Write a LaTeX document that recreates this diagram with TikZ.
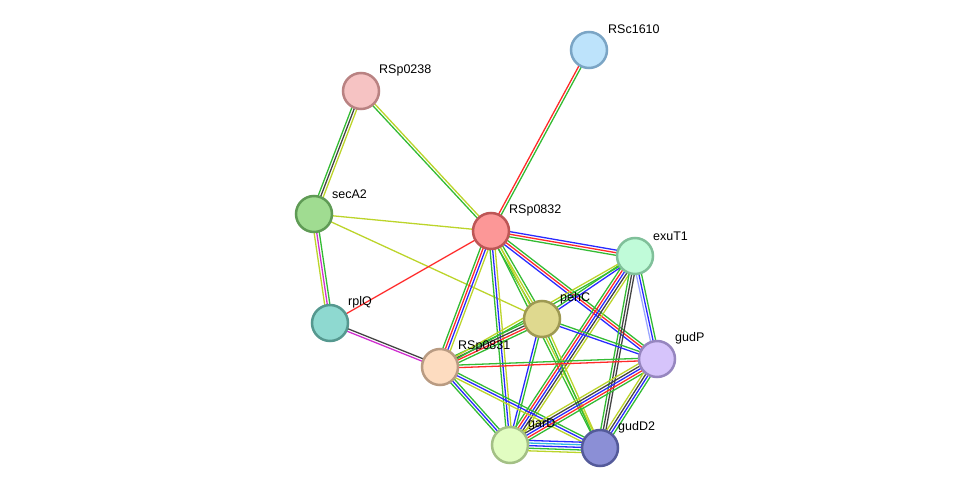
\documentclass[tikz,border=0pt]{standalone}
\usepackage{fontspec}
\setmainfont{Liberation Sans}
\usetikzlibrary{calc,backgrounds}
\definecolor{eg}{HTML}{33BB33}
\definecolor{er}{HTML}{FF2A2A}
\definecolor{eb}{HTML}{2A2AFF}
\definecolor{ey}{HTML}{BCD42A}
\definecolor{ek}{HTML}{444444}
\definecolor{em}{HTML}{D030D0}
\definecolor{el}{HTML}{9AA6FF}
\definecolor{ec}{HTML}{30B8E0}
\definecolor{f1}{HTML}{BDE3FB}\definecolor{d1}{HTML}{7BA5C5}
\definecolor{f2}{HTML}{F6C3C3}\definecolor{d2}{HTML}{B98282}
\definecolor{f3}{HTML}{A0DC91}\definecolor{d3}{HTML}{5F9B55}
\definecolor{f4}{HTML}{FC9797}\definecolor{d4}{HTML}{BD5656}
\definecolor{f5}{HTML}{C0FBD9}\definecolor{d5}{HTML}{80C09A}
\definecolor{f6}{HTML}{DFD98F}\definecolor{d6}{HTML}{9E9952}
\definecolor{f7}{HTML}{8ED9D0}\definecolor{d7}{HTML}{55988F}
\definecolor{f8}{HTML}{FDDCC0}\definecolor{d8}{HTML}{B99B82}
\definecolor{f9}{HTML}{D6C4FB}\definecolor{d9}{HTML}{9686BF}
\definecolor{f10}{HTML}{E1FDC1}\definecolor{d10}{HTML}{A3C085}
\definecolor{f11}{HTML}{8B8FD6}\definecolor{d11}{HTML}{545A9A}
\newcommand\sedge[4]{%
  \foreach \cc [count=\ii] in {#4} {%
    \pgfmathsetmacro\oo{(\ii-(#3+1)/2)*2.6}%
    \draw[\cc,line width=1.3pt] ($(#1)!\oo pt!90:(#2)$) -- ($(#2)!\oo pt!-90:(#1)$);
  }}
\tikzset{prot/.style={circle,minimum size=36pt,inner sep=0pt,line width=2.5pt,fill=f#1,draw=d#1},
  lab/.style={font=\fontsize{12.5}{14}\selectfont,anchor=south west,inner sep=0pt}}
\begin{document}
\begin{tikzpicture}[x=1pt,y=-1pt]
\useasboundingbox (0,0) rectangle (975,494);
\node[prot=1] (n1) at (589,50) {};
\node[prot=2] (n2) at (361,91) {};
\node[prot=3] (n3) at (314,214) {};
\node[prot=4] (n4) at (491,231) {};
\node[prot=5] (n5) at (635,256) {};
\node[prot=6] (n6) at (542,319) {};
\node[prot=7] (n7) at (330,323) {};
\node[prot=8] (n8) at (440,367) {};
\node[prot=9] (n9) at (657,359) {};
\node[prot=10] (n10) at (510,445) {};
\node[prot=11] (n11) at (600,448) {};
\begin{scope}[on background layer]
\sedge{n1}{n4}{2}{er,eg}
\sedge{n2}{n4}{2}{eg,ey}
\sedge{n2}{n3}{3}{eg,ek,ey}
\sedge{n3}{n4}{1}{ey}
\sedge{n3}{n6}{1}{ey}
\sedge{n3}{n7}{3}{ey,em,eg}
\sedge{n7}{n4}{1}{er}
\sedge{n7}{n8}{2}{em,ek}
\sedge{n4}{n5}{3}{eg,er,eb}
\sedge{n4}{n6}{3}{eg,ey,eg}
\sedge{n4}{n8}{4}{eg,er,eb,ey}
\sedge{n4}{n10}{3}{eg,eb,ey}
\sedge{n4}{n11}{2}{eg,ey}
\sedge{n4}{n9}{3}{eb,er,eg}
\sedge{n5}{n6}{2}{eg,eb}
\sedge{n8}{n6}{4}{eg,er,ek,eg}
\sedge{n8}{n5}{2}{eg,ey}
\sedge{n5}{n9}{3}{el,eb,eg}
\sedge{n5}{n10}{5}{eg,er,eb,ek,ey}
\sedge{n5}{n11}{3}{eg,ek,ek}
\sedge{n6}{n9}{2}{eb,eg}
\sedge{n6}{n10}{2}{eb,eg}
\sedge{n6}{n11}{2}{eg,ey}
\sedge{n8}{n9}{2}{er,eg}
\sedge{n8}{n10}{3}{eg,eb,eg}
\sedge{n8}{n11}{3}{ey,eb,eg}
\sedge{n10}{n11}{5}{ey,eg,eb,ec,eb}
\sedge{n10}{n9}{5}{eg,er,eb,ek,ey}
\sedge{n11}{n9}{4}{eg,eb,ek,ey}
\end{scope}
\node[lab] (l1) at (608,34) {RSc1610};
\node[lab] (l2) at (379,76) {RSp0238};
\node[lab] (l3) at (332,199) {secA2};
\node[lab] (l4) at (509,216) {RSp0832};
\node[lab] (l5) at (653,241) {exuT1};
\node[lab] (l6) at (560,304) {pehC};
\node[lab] (l7) at (348,308) {rplQ};
\node[lab] (l8) at (458,352) {RSp0831};
\node[lab] (l9) at (675,344) {gudP};
\node[lab] (l10) at (528,430) {garD};
\node[lab] (l11) at (618,433) {gudD2};
\end{tikzpicture}
\end{document}
